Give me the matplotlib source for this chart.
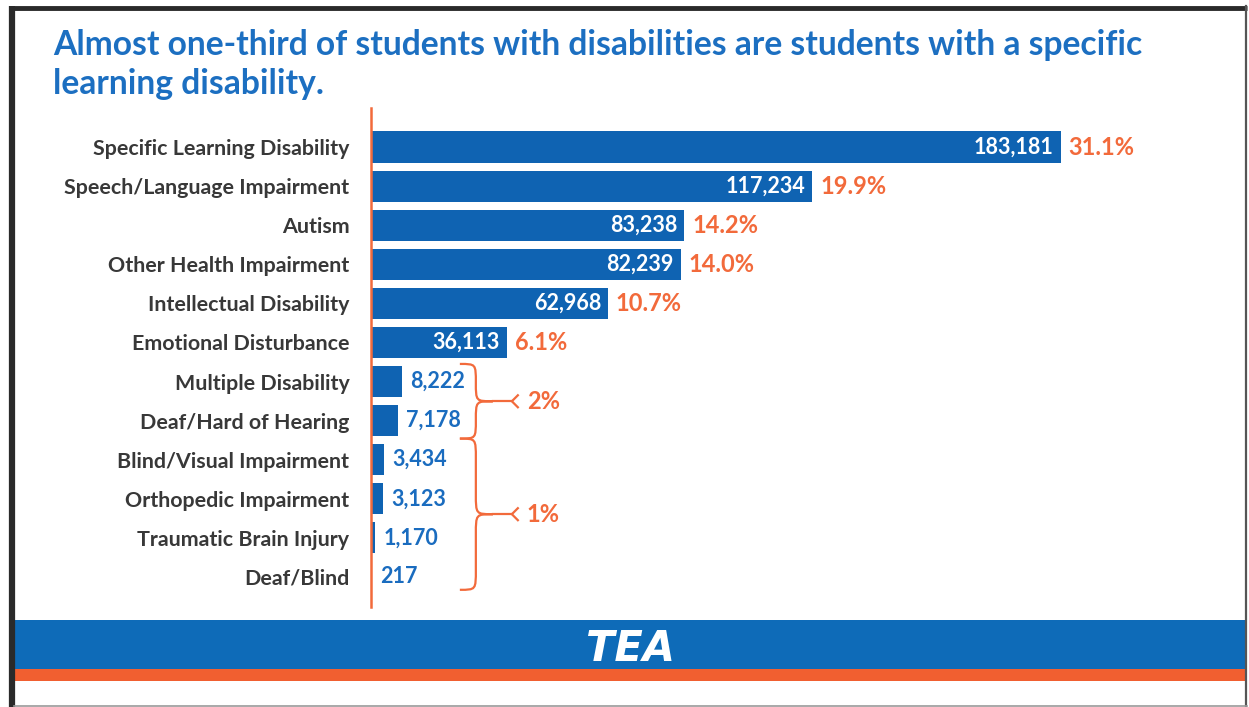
import matplotlib.pyplot as plt
from matplotlib.path import Path
from matplotlib.patches import PathPatch, Rectangle

categories = [
    "Specific Learning Disability",
    "Speech/Language Impairment",
    "Autism",
    "Other Health Impairment",
    "Intellectual Disability",
    "Emotional Disturbance",
    "Multiple Disability",
    "Deaf/Hard of Hearing",
    "Blind/Visual Impairment",
    "Orthopedic Impairment",
    "Traumatic Brain Injury",
    "Deaf/Blind",
]
counts = [183181, 117234, 83238, 82239, 62968, 36113,
          8222, 7178, 3434, 3123, 1170, 217]
shares = ["31.1%", "19.9%", "14.2%", "14.0%", "10.7%", "6.1%"]
# small categories grouped under one brace: (first index, last index, label)
groups = [(6, 7, "2%"), (8, 11, "1%")]

title = ("Almost one-third of students with disabilities are students with a specific\n"
         "learning disability.")

BLUE = "#0f63b2"
TITLE_BLUE = "#1c6fc1"
LABEL_BLUE = "#1a6cbf"
ORANGE = "#f26a3b"
GREY_TXT = "#383838"
FONT = "Lato"

W, H = 1249, 707
fig = plt.figure(figsize=(W / 100, H / 100), dpi=100)

# page decoration layer in pixel coordinates
deco = fig.add_axes([0, 0, 1, 1])
deco.set_xlim(0, W)
deco.set_ylim(H, 0)
deco.axis("off")

deco.plot([12, 12], [6, 707], color="#2a2a2a", lw=4.5, solid_capstyle="butt")
deco.plot([10, 1247], [7.5, 7.5], color="#2a2a2a", lw=3.5, solid_capstyle="butt")
deco.plot([1246, 1246], [6, 707], color="#555555", lw=1.6)
deco.plot([14, 1247], [705.5, 705.5], color="#9a9a9a", lw=1.2)

deco.add_patch(Rectangle((15, 620), 1231, 49, color="#0e6bb8", lw=0))
deco.add_patch(Rectangle((15, 669), 1231, 12, color="#f15f30", lw=0))
deco.text(631, 649, "TEA", color="white", fontsize=30, fontweight="heavy",
          fontstyle="italic", family="DejaVu Sans", ha="center", va="center")

deco.text(53, 29, title, color=TITLE_BLUE, fontsize=24.2, fontweight="bold",
          family=FONT, ha="left", va="top", linespacing=1.25)

# bar chart
x0, x1 = 371, 1124
y_top, y_bot = 108, 607
ax = fig.add_axes([x0 / W, 1 - y_bot / H, (x1 - x0) / W, (y_bot - y_top) / H])
ax.patch.set_alpha(0)
n = len(categories)
ypos = list(range(n))
ax.barh(ypos, counts, height=0.8, color=BLUE)
ax.set_xlim(0, 200000)
ax.set_ylim(n - 1 + 0.77, -1.0)

for s in ["top", "right", "bottom"]:
    ax.spines[s].set_visible(False)
ax.spines["left"].set_color(ORANGE)
ax.spines["left"].set_linewidth(1.8)
ax.set_xticks([])
ax.set_yticks(ypos)
ax.set_yticklabels(categories, fontsize=15.4, fontweight="bold", family=FONT,
                   color=GREY_TXT)
ax.tick_params(axis="y", length=0, pad=15.5)

for i, v in enumerate(counts):
    txt = f"{v:,}"
    if i < len(shares):
        ax.annotate(txt, (v, i), xytext=(-5, 0), textcoords="offset points",
                    ha="right", va="center", color="white", fontsize=15.5,
                    fontweight="bold", family=FONT)
        ax.annotate(shares[i], (v, i), xytext=(5.5, 0), textcoords="offset points",
                    ha="left", va="center", color=ORANGE, fontsize=17,
                    fontweight="bold", family=FONT)
    else:
        ax.annotate(txt, (v, i), xytext=(6, 0), textcoords="offset points",
                    ha="left", va="center", color=LABEL_BLUE, fontsize=15.5,
                    fontweight="bold", family=FONT)

# data units per pixel, horizontally and vertically
ux = 200000 / (x1 - x0)
uy = (n - 1 + 0.77 + 1.0) / (y_bot - y_top)


def brace(y0, y1, xb, label):
    xm, xt = xb + 16 * ux, xb + 33 * ux
    ym = (y0 + y1) / 2
    r = min(20 * uy, (y1 - y0) / 4)
    verts = [(xb, y0), (xm, y0), (xm, y0), (xm, y0 + r),
             (xm, ym - r), (xm, ym), (xm, ym), (xt, ym),
             (xm, ym), (xm, ym), (xm, ym + r),
             (xm, y1 - r), (xm, y1), (xm, y1), (xb, y1)]
    codes = [Path.MOVETO, Path.CURVE4, Path.CURVE4, Path.CURVE4,
             Path.LINETO, Path.CURVE4, Path.CURVE4, Path.CURVE4,
             Path.CURVE4, Path.CURVE4, Path.CURVE4,
             Path.LINETO, Path.CURVE4, Path.CURVE4, Path.CURVE4]
    ax.add_patch(PathPatch(Path(verts, codes), fill=False, edgecolor=ORANGE,
                           lw=1.6, clip_on=False))
    xc = xt + 19 * ux
    ax.plot([xt, xc], [ym, ym], color=ORANGE, lw=1.6, clip_on=False)
    ax.plot([xc + 6 * ux, xc, xc + 6 * ux], [ym - 6 * uy, ym, ym + 6 * uy],
            color=ORANGE, lw=1.6, clip_on=False)
    ax.text(xc + 15 * ux, ym, label, color=ORANGE, fontsize=17,
            fontweight="bold", family=FONT, ha="left", va="center")


top_edges = [groups[0][0] - 0.45, groups[0][1] + 0.46]
bot_edges = [groups[1][0] - 0.54, groups[1][1] + 0.33]
xb = 23600
brace(top_edges[0], top_edges[1], xb, groups[0][2])
brace(bot_edges[0], bot_edges[1], xb, groups[1][2])

fig.savefig("out.png", dpi=100)
